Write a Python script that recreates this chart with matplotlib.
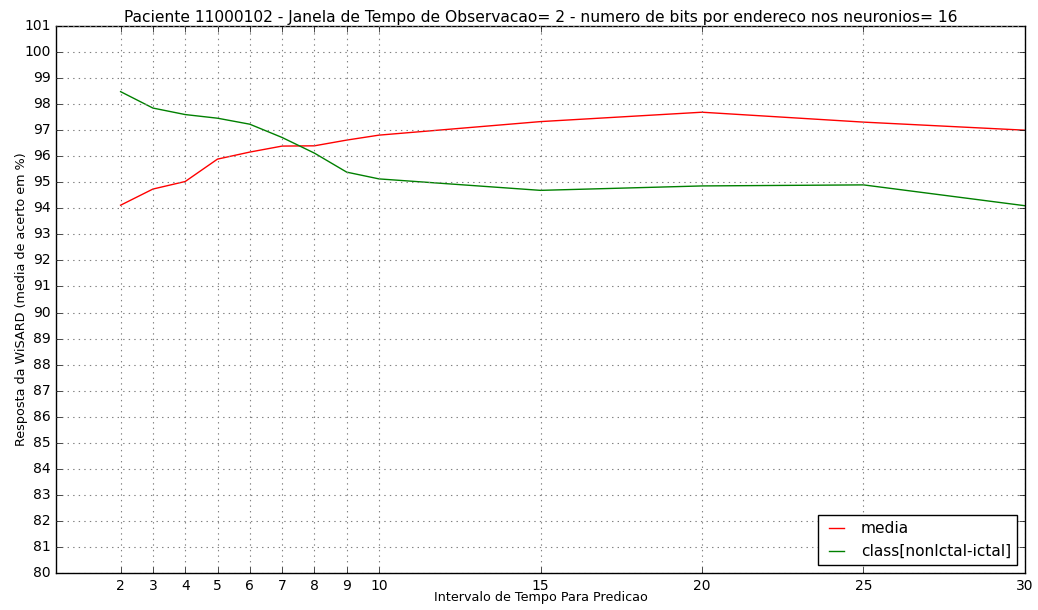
import matplotlib
matplotlib.use("Agg")
import matplotlib.pyplot as plt
import numpy as np

# intervalos de predicao
intervalos = [2, 3, 4, 5, 6, 7, 8, 9, 10, 15, 20, 25, 30]
media = [94.12, 94.74, 95.03, 95.89, 96.16, 96.39, 96.40, 96.62, 96.81, 97.33, 97.69, 97.31, 97.00]
classe = [98.48, 97.85, 97.60, 97.46, 97.23, 96.72, 96.12, 95.39, 95.13, 94.69, 94.86, 94.90, 94.10]
yticks = list(range(80, 102))

plt.style.use("classic")
fig = plt.figure(figsize=(10.38, 6.1), dpi=100)
ax = fig.add_axes([56 / 1038, 1 - 573 / 610, (1025 - 56) / 1038, (573 - 26) / 610])

ax.plot(intervalos, media, color="red", linewidth=1.0, label="media")
ax.plot(intervalos, classe, color="green", linewidth=1.0, label="class[nonIctal-ictal]")

ax.set_xlim(0, 30)
ax.set_ylim(80, 101)
ax.set_xticks(intervalos)
ax.set_yticks(yticks)
ax.tick_params(labelsize=10)
ax.grid(True, color="gray", linestyle=":", linewidth=0.8)

ax.set_title("Paciente 11000102 - Janela de Tempo de Observacao= 2 - numero de bits por endereco nos neuronios= 16",
             fontsize=11.2, pad=3)
ax.set_xlabel("Intervalo de Tempo Para Predicao", fontsize=9.2, labelpad=-1)
ax.set_ylabel("Resposta da WiSARD (media de acerto em %)", fontsize=9.2, labelpad=-3)

leg = ax.legend(loc="lower right", fontsize=11.1, fancybox=False, handlelength=1.6,
                borderaxespad=0.5)
leg.get_frame().set_edgecolor("black")

fig.savefig("out.png", dpi=100)
